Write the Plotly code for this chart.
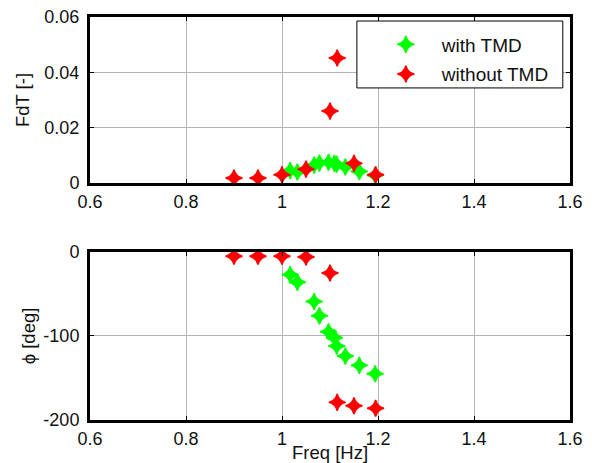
import plotly.graph_objects as go
from plotly.subplots import make_subplots

# Data
freq_with = [1.017, 1.032, 1.067, 1.078, 1.097, 1.109, 1.114, 1.132, 1.161, 1.194]
fdt_with = [0.0045, 0.0040, 0.0065, 0.0072, 0.0075, 0.0071, 0.0068, 0.0058, 0.0042, 0.0028]
phi_with = [-27, -36, -59, -76, -95, -102, -112, -124, -135, -145]

freq_without = [0.90, 0.95, 1.00, 1.05, 1.10, 1.115, 1.15, 1.195]
fdt_without = [0.0018, 0.0018, 0.0030, 0.0050, 0.0260, 0.0452, 0.0071, 0.0030]
phi_without = [-5, -5, -5, -6, -25, -179, -183, -186]

x_ticks = [0.6, 0.8, 1.0, 1.2, 1.4, 1.6]
x_ticklabels = ["0.6", "0.8", "1", "1.2", "1.4", "1.6"]
y1_ticks = [0, 0.02, 0.04, 0.06]
y1_ticklabels = ["0", "0.02", "0.04", "0.06"]
y2_ticks = [-200, -100, 0]
y2_ticklabels = ["-200", "-100", "0"]

FONT = "Liberation Sans, Arial, sans-serif"
GREEN = "#00ff00"
RED = "#ff0000"
TXT = "#111111"

fig = make_subplots(rows=2, cols=1, vertical_spacing=0.17)

def mk(c):
    return dict(symbol="star-diamond", size=12, color=c, line=dict(width=1.5, color=c))

fig.add_trace(go.Scatter(x=freq_with, y=fdt_with, mode="markers", name="with TMD",
                         marker=mk(GREEN), legendgroup="a"), row=1, col=1)
fig.add_trace(go.Scatter(x=freq_without, y=fdt_without, mode="markers", name="without TMD",
                         marker=mk(RED), legendgroup="b"), row=1, col=1)
fig.add_trace(go.Scatter(x=freq_with, y=phi_with, mode="markers", name="with TMD",
                         marker=mk(GREEN), showlegend=False), row=2, col=1)
fig.add_trace(go.Scatter(x=freq_without, y=phi_without, mode="markers", name="without TMD",
                         marker=mk(RED), showlegend=False), row=2, col=1)

axcommon = dict(showline=True, linecolor="black", linewidth=3, mirror="ticks",
                ticks="inside", ticklen=4, tickcolor="black", tickwidth=1,
                showgrid=True, gridcolor="#b4b4b4", gridwidth=1, zeroline=False,
                automargin=False, ticklabeloverflow="allow",
                tickfont=dict(family=FONT, size=18, color=TXT))

fig.update_xaxes(range=[0.6, 1.6], tickvals=x_ticks, ticktext=x_ticklabels,
                 ticklabelstandoff=0, **axcommon)
fig.update_yaxes(ticklabelstandoff=4, **axcommon)
fig.update_yaxes(range=[0, 0.06], tickvals=y1_ticks, ticktext=y1_ticklabels,
                 title=dict(text="FdT [-]", font=dict(family=FONT, size=18.5, color=TXT), standoff=10),
                 domain=[0.588, 1.0], row=1, col=1)
fig.update_yaxes(range=[-200, 0], tickvals=y2_ticks, ticktext=y2_ticklabels,
                 title=dict(text="ϕ [deg]", font=dict(family=FONT, size=18.5, color=TXT), standoff=3),
                 domain=[0.0, 0.417], row=2, col=1)
fig.update_xaxes(title=dict(text="Freq [Hz]", font=dict(family=FONT, size=18.5, color=TXT), standoff=0),
                 row=2, col=1)

# legend frame
fig.add_shape(type="rect", xref="paper", yref="paper", x0=0.556, x1=0.985, y0=0.824, y1=0.990,
              line=dict(color="black", width=1), fillcolor="white", layer="above")

fig.update_layout(
    width=584, height=455,
    margin=dict(l=82, r=22, t=9, b=43),
    paper_bgcolor="white", plot_bgcolor="white",
    font=dict(family=FONT, size=18.5, color=TXT),
    showlegend=True,
    legend=dict(x=0.583, y=0.979, xanchor="left", yanchor="top",
                bgcolor="rgba(0,0,0,0)", borderwidth=0,
                font=dict(family=FONT, size=19, color=TXT),
                tracegroupgap=2, itemwidth=62, indentation=0),
)

fig.write_html("out.html")
